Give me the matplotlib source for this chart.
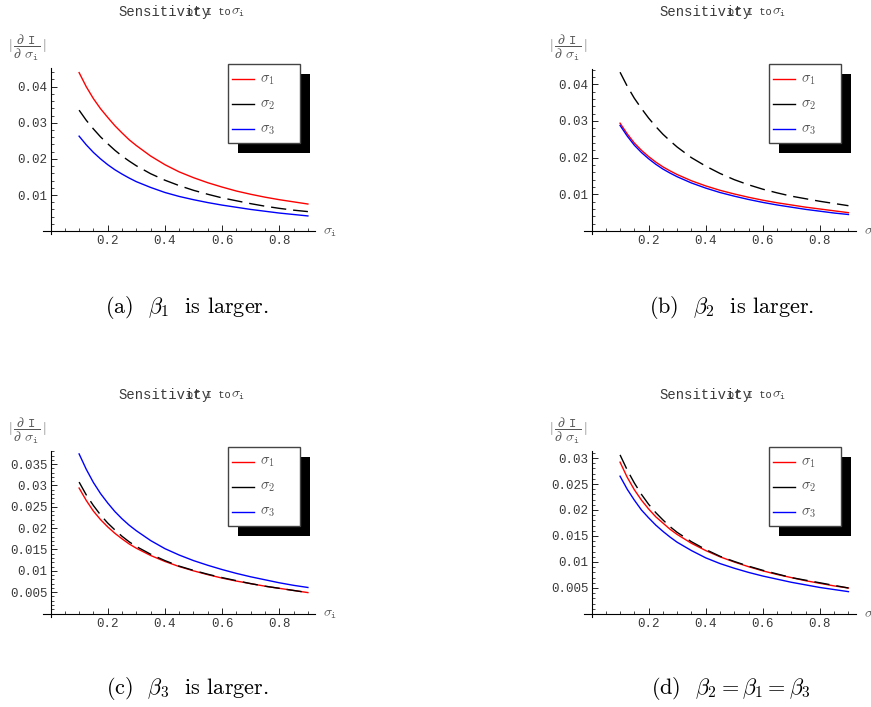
import numpy as np
import matplotlib
matplotlib.use("Agg")
import matplotlib.pyplot as plt
from matplotlib.lines import Line2D
from matplotlib.patches import Rectangle
from matplotlib.ticker import MultipleLocator

plt.rcParams['mathtext.fontset'] = 'cm'

# ---------------- data ----------------
sigma = [0.100, 0.125, 0.150, 0.175, 0.200, 0.225, 0.250, 0.275, 0.30, 0.35, 0.40,
         0.45, 0.50, 0.55, 0.60, 0.65, 0.70, 0.75, 0.80, 0.85, 0.90]

# (a) beta_1 is larger
a_s1 = [0.0439, 0.0400, 0.0367, 0.0339, 0.0315, 0.0292, 0.0272, 0.0253, 0.0237, 0.0208, 0.0184,
        0.0164, 0.0148, 0.0134, 0.0122, 0.0111, 0.0102, 0.0094, 0.0087, 0.0081, 0.0075]
a_s2 = [0.0335, 0.0307, 0.0283, 0.0261, 0.0242, 0.0224, 0.0208, 0.0194, 0.0181, 0.0159, 0.0141,
        0.0126, 0.0113, 0.0102, 0.0092, 0.0084, 0.0076, 0.0069, 0.0063, 0.0058, 0.0054]
a_s3 = [0.0263, 0.0239, 0.0218, 0.0200, 0.0184, 0.0170, 0.0158, 0.0147, 0.0137, 0.0121, 0.0107,
        0.0096, 0.0087, 0.0079, 0.0072, 0.0066, 0.0060, 0.0055, 0.0050, 0.0046, 0.0042]

# (b) beta_2 is larger
b_s1 = [0.0294, 0.0265, 0.0240, 0.0220, 0.0203, 0.0188, 0.0175, 0.0164, 0.0154, 0.0137, 0.0123,
        0.0111, 0.0101, 0.0092, 0.0084, 0.0077, 0.0071, 0.0065, 0.0060, 0.0055, 0.0050]
b_s2 = [0.0433, 0.0395, 0.0362, 0.0334, 0.0308, 0.0285, 0.0264, 0.0246, 0.0229, 0.0200, 0.0177,
        0.0157, 0.0140, 0.0126, 0.0114, 0.0104, 0.0095, 0.0088, 0.0081, 0.0075, 0.0069]
b_s3 = [0.0288, 0.0259, 0.0234, 0.0214, 0.0197, 0.0182, 0.0169, 0.0158, 0.0148, 0.0131, 0.0117,
        0.0105, 0.0095, 0.0086, 0.0078, 0.0071, 0.0065, 0.0059, 0.0054, 0.0049, 0.0045]

# (c) beta_3 is larger
c_s1 = [0.0294, 0.0265, 0.0240, 0.0220, 0.0203, 0.0188, 0.0175, 0.0163, 0.0153, 0.0136, 0.0122,
        0.0110, 0.0100, 0.0091, 0.0083, 0.0076, 0.0070, 0.0064, 0.0059, 0.0054, 0.0049]
c_s2 = [0.0308, 0.0278, 0.0253, 0.0231, 0.0212, 0.0196, 0.0181, 0.0168, 0.0157, 0.0139, 0.0124,
        0.0111, 0.0101, 0.0092, 0.0084, 0.0077, 0.0070, 0.0064, 0.0059, 0.0054, 0.0049]
c_s3 = [0.0374, 0.0338, 0.0307, 0.0281, 0.0259, 0.0239, 0.0222, 0.0207, 0.0194, 0.0171, 0.0152,
        0.0137, 0.0124, 0.0113, 0.0103, 0.0094, 0.0086, 0.0079, 0.0072, 0.0066, 0.0061]

# (d) beta_2 = beta_1 = beta_3
d_s1 = [0.0292, 0.0263, 0.0239, 0.0219, 0.0202, 0.0187, 0.0175, 0.0163, 0.0153, 0.0136, 0.0122,
        0.0110, 0.0100, 0.0091, 0.0083, 0.0076, 0.0070, 0.0064, 0.0059, 0.0054, 0.0050]
d_s2 = [0.0306, 0.0277, 0.0252, 0.0230, 0.0211, 0.0195, 0.0181, 0.0168, 0.0157, 0.0139, 0.0124,
        0.0111, 0.0101, 0.0092, 0.0084, 0.0077, 0.0070, 0.0065, 0.0060, 0.0055, 0.0050]
d_s3 = [0.0265, 0.0240, 0.0219, 0.0200, 0.0185, 0.0171, 0.0159, 0.0148, 0.0138, 0.0122, 0.0108,
        0.0097, 0.0088, 0.0080, 0.0073, 0.0067, 0.0061, 0.0056, 0.0051, 0.0047, 0.0043]

x_ticks = [0.2, 0.4, 0.6, 0.8]
x_ticklabels = ["0.2", "0.4", "0.6", "0.8"]
y_ticks_ab = [0.01, 0.02, 0.03, 0.04]
y_ticklabels_ab = ["0.01", "0.02", "0.03", "0.04"]
y_ticks_c = [0.005, 0.01, 0.015, 0.02, 0.025, 0.03, 0.035]
y_ticklabels_c = ["0.005", "0.01", "0.015", "0.02", "0.025", "0.03", "0.035"]
y_ticks_d = [0.005, 0.01, 0.015, 0.02, 0.025, 0.03]
y_ticklabels_d = ["0.005", "0.01", "0.015", "0.02", "0.025", "0.03"]

legend_labels = [r"$\sigma_1$", r"$\sigma_2$", r"$\sigma_3$"]
captions = [r"(a)  $\beta_1$  is larger.", r"(b)  $\beta_2$  is larger.",
            r"(c)  $\beta_3$  is larger.", r"(d)  $\beta_2=\beta_1=\beta_3$"]

# ---------------- layout ----------------
W, H = 871, 707
fig = plt.figure(figsize=(W / 100, H / 100), dpi=100)
fig.patch.set_facecolor("white")


def fx(px):
    return px / W


def fy(py):
    return 1 - py / H


panels = [
    dict(x0=50.5, xs=286.0, y0=231.1, ys=3610.0, ytop=0.0453, s=(a_s1, a_s2, a_s3),
         yt=y_ticks_ab, ytl=y_ticklabels_ab, ymin=0.002, cap=captions[0], capxy=(187, 308)),
    dict(x0=591.5, xs=285.5, y0=231.0, ys=3667.0, ytop=0.0443, s=(b_s1, b_s2, b_s3),
         yt=y_ticks_ab, ytl=y_ticklabels_ab, ymin=0.002, cap=captions[1], capxy=(732, 308)),
    dict(x0=50.5, xs=286.0, y0=613.5, ys=4267.0, ytop=0.0380, s=(c_s1, c_s2, c_s3),
         yt=y_ticks_c, ytl=y_ticklabels_c, ymin=0.001, cap=captions[2], capxy=(187, 689)),
    dict(x0=591.5, xs=285.5, y0=614.0, ys=5200.0, ytop=0.0313, s=(d_s1, d_s2, d_s3),
         yt=y_ticks_d, ytl=y_ticklabels_d, ymin=0.001, cap=captions[3], capxy=(731, 689)),
]

colors = ["#ff0000", "#000000", "#0000ff"]
mono = "Liberation Mono"
gray = "#3a3a3a"

for p in panels:
    x0, xs, y0, ys, ytop = p["x0"], p["xs"], p["y0"], p["ys"], p["ytop"]
    xmin, xmax = -0.027, 0.925
    ymin = -3.0 / ys
    left = x0 + xmin * xs
    right = x0 + xmax * xs
    bot = y0 - ymin * ys
    top = y0 - ytop * ys
    ax = fig.add_axes([fx(left), fy(bot), (right - left) / W, (bot - top) / H])
    ax.set_xlim(xmin, xmax)
    ax.set_ylim(ymin, ytop)
    ax.patch.set_visible(False)
    for sp in ("top", "right"):
        ax.spines[sp].set_visible(False)
    for sp in ("left", "bottom"):
        ax.spines[sp].set_position(("data", 0))
        ax.spines[sp].set_linewidth(0.8)

    s1, s2, s3 = p["s"]
    ax.plot(sigma, s1, color=colors[0], lw=1.0)
    ax.plot(sigma, s2, color=colors[1], lw=1.0, dashes=(11, 5))
    ax.plot(sigma, s3, color=colors[2], lw=1.0)

    ax.set_xticks(x_ticks)
    ax.set_xticklabels(x_ticklabels, fontfamily=mono, fontsize=9, color=gray)
    ax.set_yticks(p["yt"])
    ax.set_yticklabels(p["ytl"], fontfamily=mono, fontsize=9, color=gray)
    ax.xaxis.set_minor_locator(MultipleLocator(0.05))
    ax.yaxis.set_minor_locator(MultipleLocator(p["ymin"]))
    ax.tick_params(which="major", direction="in", length=4, width=0.6)
    ax.tick_params(which="minor", direction="in", length=2, width=0.5)
    ax.tick_params(axis="x", which="major", pad=3)
    ax.tick_params(axis="y", which="major", pad=2)

    # y label
    fig.text(fx(x0 - 23), fy(y0 - 183),
             r"$|\,\dfrac{\partial\ \mathtt{I}}{\partial\ \sigma_{\mathtt{i}}}\,|$",
             ha="center", va="center", fontsize=10, color="#555555")
    # x label
    fig.text(fx(x0 + 272.5), fy(y0 + 1), r"$\sigma_{\mathtt{i}}$",
             ha="left", va="center", fontsize=10, color="#555555")
    # title (overlapping text as in the source)
    fig.text(fx(x0 + 67.5), fy(y0 - 219), "Sensitivity", fontfamily=mono,
             fontsize=10, ha="left", va="center", color=gray)
    fig.text(fx(x0 + 136.5), fy(y0 - 219), "of I to", fontfamily=mono,
             fontsize=7.5, ha="left", va="center", color=gray)
    fig.text(fx(x0 + 180), fy(y0 - 219), r"$\sigma_{\mathtt{i}}$",
             fontsize=10, ha="left", va="center", color=gray)

    # legend box with black shadow
    bw, bh = 72, 79
    shadow = Rectangle((fx(x0 + 187.5), fy(y0 - 78)), bw / W, bh / H,
                       transform=fig.transFigure, facecolor="black",
                       edgecolor="none", zorder=2)
    box = Rectangle((fx(x0 + 177.5), fy(y0 - 88)), bw / W, bh / H,
                    transform=fig.transFigure, facecolor="white",
                    edgecolor="#444444", lw=1.0, zorder=3)
    fig.add_artist(shadow)
    fig.add_artist(box)
    for k, (dy, c, lab) in enumerate(zip((152, 127, 102), colors, legend_labels)):
        fig.add_artist(Line2D([fx(x0 + 181.5), fx(x0 + 203)], [fy(y0 - dy)] * 2,
                              color=c, lw=1.0, transform=fig.transFigure, zorder=4))
        fig.text(fx(x0 + 209), fy(y0 - dy), lab, fontsize=10.5, color="#555555",
                 ha="left", va="center", zorder=5)

    # caption
    fig.text(fx(p["capxy"][0]), fy(p["capxy"][1]), p["cap"], fontfamily="cmr10",
             fontsize=16, ha="center", va="center", color="black")

fig.savefig("out.png", dpi=100, facecolor="white")
